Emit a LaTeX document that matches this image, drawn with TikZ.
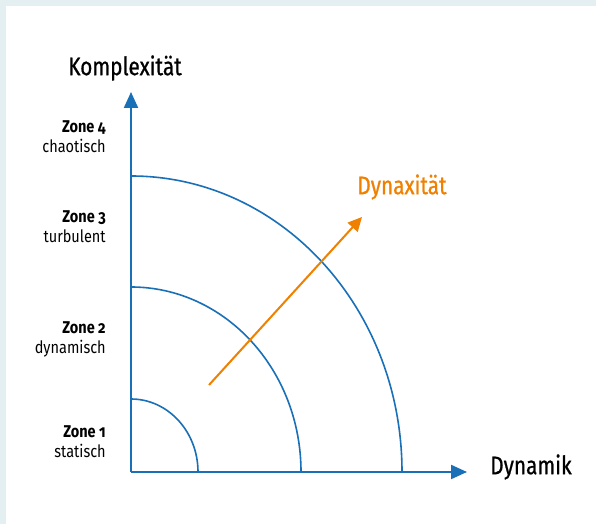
\documentclass[tikz,border=0pt]{standalone}
\usepackage{fontspec}
\setmainfont[Numbers=OldStyle,FakeStretch=0.85]{Fira Sans}
\newfontfamily\titelfont[FakeStretch=0.82,FakeBold=0.8]{Fira Sans}
\usepackage{tikz}
\usepackage{xcolor}
\usetikzlibrary{arrows.meta}
\definecolor{achse}{RGB}{26,112,183}
\definecolor{dynax}{RGB}{240,128,0}
\definecolor{rahmen}{RGB}{228,239,241}

\begin{document}
\begin{tikzpicture}[x=0.75pt,y=0.75pt,
    achsenpfeil/.style={achse,line width=1.6pt,-{Triangle[length=12pt,width=10.5pt]}},
    zonenbogen/.style={achse,line width=1.2pt},
    zonetext/.style={anchor=east,inner sep=0pt,align=right,font=\fontsize{12.8}{15}\selectfont},
    titel/.style={font=\titelfont\fontsize{19}{21}\selectfont}]
    \fill[rahmen] (0,0) rectangle (596,524);
    \fill[white] (6,0) rectangle (596,518);
    \useasboundingbox (0,0) rectangle (596,524);
    \coordinate (o) at (131,52);
    \coordinate (ytop) at (131,432);
    \coordinate (xend) at (467,52);
    \coordinate (dstart) at (209,139);
    \coordinate (dend) at (362,307);
    \draw[zonenbogen] (198,52) arc[start angle=0,end angle=90,x radius=67,y radius=73];
    \draw[zonenbogen] (301,52) arc[start angle=0,end angle=90,x radius=170,y radius=185];
    \draw[zonenbogen] (402,52) arc[start angle=0,end angle=90,x radius=271,y radius=296];
    \draw[achsenpfeil] (o) -- (ytop);
    \draw[achsenpfeil] (o) -- (xend);
    \draw[dynax,line width=1.5pt,-{Triangle[length=10.5pt,width=10pt]}] (dstart) -- (dend);
    \node[titel] (komplex) at (125,456) {Komplexität};
    \node[titel] (dynamik) at (531,57) {Dynamik};
    \node[titel,text=dynax] (dynaxitaet) at (402,337) {Dynaxität};
    \node[zonetext] (zone4) at (106,387) {\textbf{Zone 4}\\chaotisch};
    \node[zonetext] (zone3) at (106,297) {\textbf{Zone 3}\\turbulent};
    \node[zonetext] (zone2) at (106,185) {\textbf{Zone 2}\\dynamisch};
    \node[zonetext] (zone1) at (106,82) {\textbf{Zone 1}\\statisch};
\end{tikzpicture}
\end{document}
